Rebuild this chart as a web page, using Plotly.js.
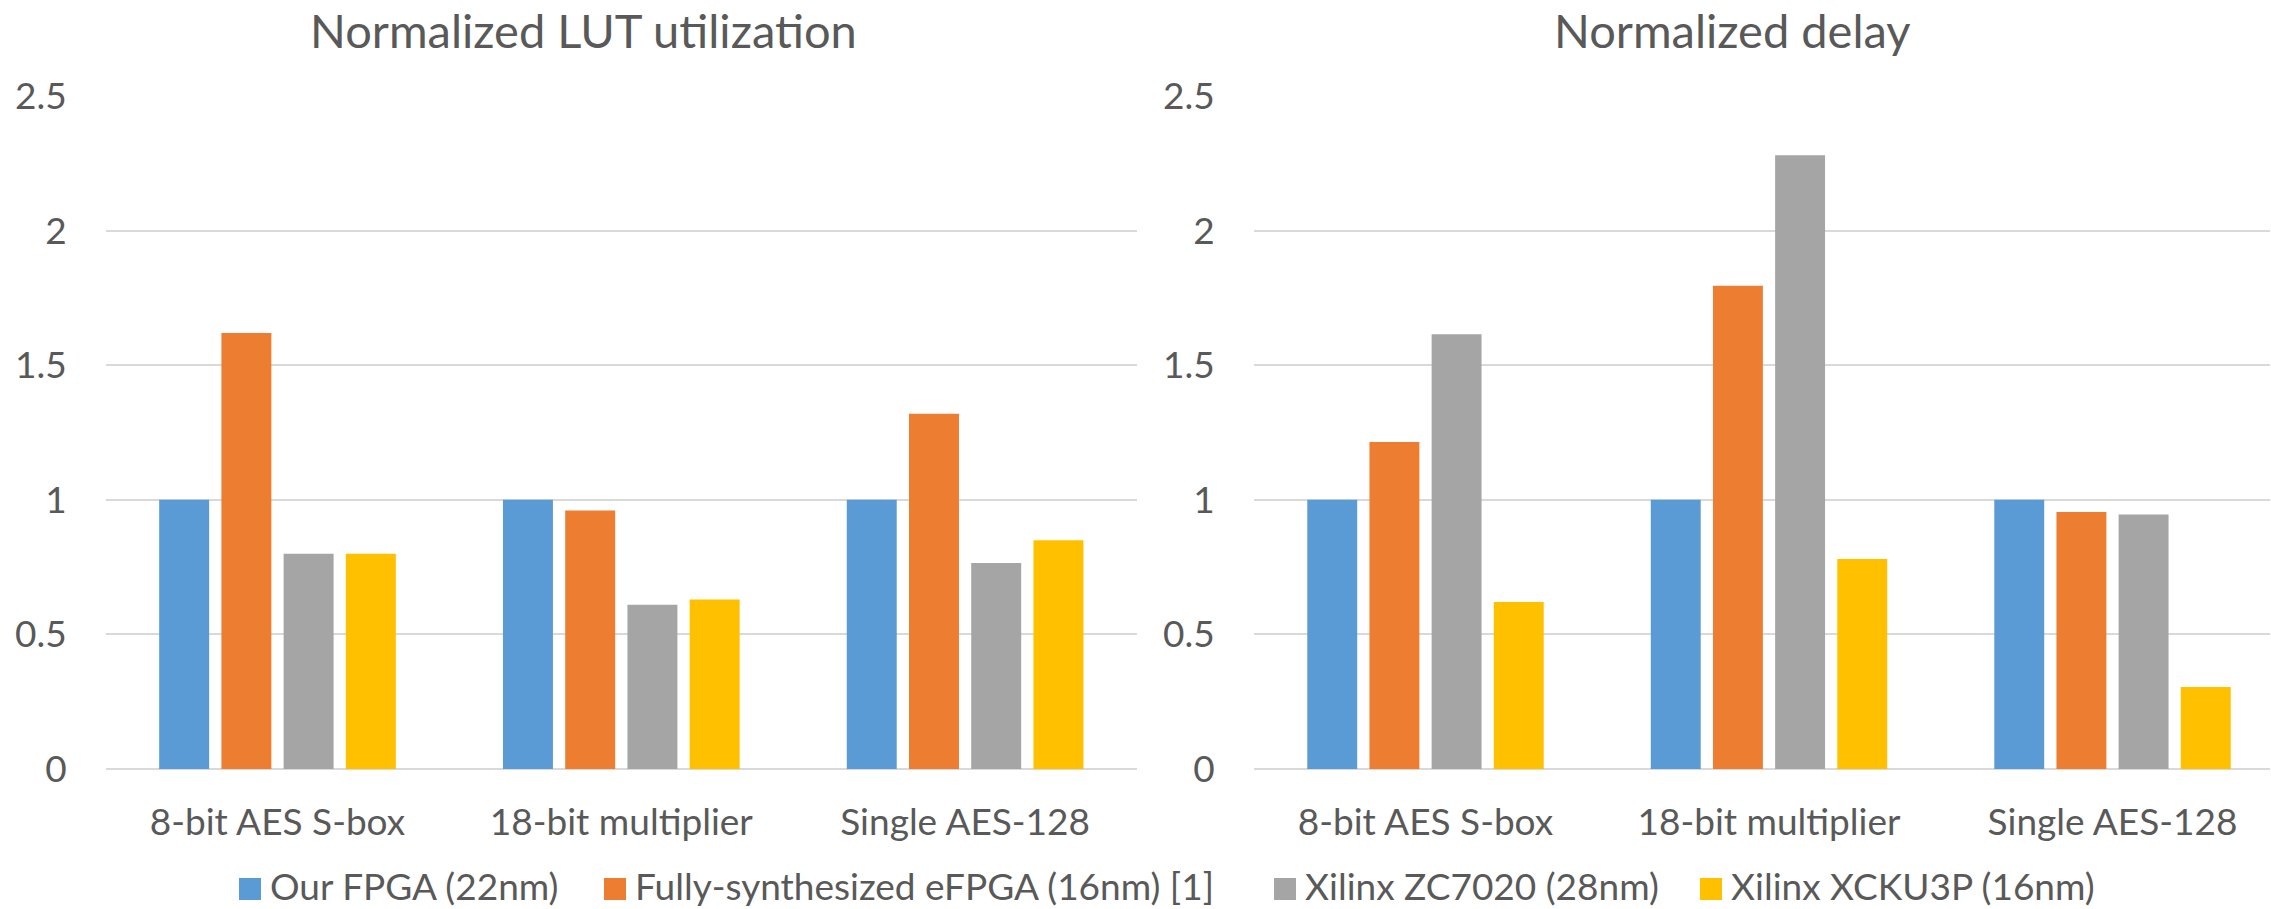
<!DOCTYPE html>
<html>
<head>
<meta charset="utf-8">
<script src="https://cdn.plot.ly/plotly-3.0.1.min.js"></script>
<style>
  html, body { margin: 0; padding: 0; background: #ffffff; }
  #chart { width: 2271px; height: 909px; }
</style>
</head>
<body>
<div id="chart"></div>
<script>
// Benchmark designs compared in both panels
const categories = ['8-bit AES S-box', '18-bit multiplier', 'Single AES-128'];

// Series (devices) shown in each group
const seriesNames = [
  'Our FPGA (22nm)',
  'Fully-synthesized eFPGA (16nm) [1]',
  'Xilinx ZC7020 (28nm)',
  'Xilinx XCKU3P (16nm)'
];

// Normalized LUT utilization per device
const lutOurFpga = [1.0, 1.0, 1.0];
const lutEfpga   = [1.62, 0.96, 1.32];
const lutZc7020  = [0.80, 0.61, 0.765];
const lutXcku3p  = [0.80, 0.63, 0.85];

// Normalized delay per device
const delayOurFpga = [1.0, 1.0, 1.0];
const delayEfpga   = [1.215, 1.795, 0.955];
const delayZc7020  = [1.615, 2.28, 0.945];
const delayXcku3p  = [0.62, 0.78, 0.305];

const panelTitles = ['Normalized LUT utilization', 'Normalized delay'];

// ---- styling -------------------------------------------------------------
const W = 2271, H = 909;
const M = { l: 0, r: 0, t: 96, b: 140 };
const seriesColors = ['#5B9BD5', '#ED7D31', '#A5A5A5', '#FFC000'];
const textColor = '#595959';
const gridColor = '#D9D9D9';
const FONT = 'Lato, "Open Sans", sans-serif';

const px2x = p => p / W;                               // pixel -> paper x
const px2y = p => (H - M.b - p) / (H - M.t - M.b);     // pixel -> paper y

const lutSeries = [lutOurFpga, lutEfpga, lutZc7020, lutXcku3p];
const delaySeries = [delayOurFpga, delayEfpga, delayZc7020, delayXcku3p];

const traces = [];
lutSeries.forEach((vals, i) => traces.push({
  type: 'bar', x: categories, y: vals, name: seriesNames[i],
  xaxis: 'x', yaxis: 'y', showlegend: false,
  marker: { color: seriesColors[i], line: { width: 0 } },
  hoverinfo: 'x+y+name'
}));
delaySeries.forEach((vals, i) => traces.push({
  type: 'bar', x: categories, y: vals, name: seriesNames[i],
  xaxis: 'x2', yaxis: 'y2', showlegend: false,
  marker: { color: seriesColors[i], line: { width: 0 } },
  hoverinfo: 'x+y+name'
}));

const yAxisStyle = {
  range: [0, 2.5], dtick: 0.5, tick0: 0,
  showgrid: true, gridcolor: gridColor, gridwidth: 2,
  zeroline: true, zerolinecolor: gridColor, zerolinewidth: 2,
  showline: false, ticks: '',
  ticklabelstandoff: 38,
  tickfont: { family: FONT, size: 37, color: textColor },
  fixedrange: true
};
const xAxisStyle = {
  type: 'category', showgrid: false, zeroline: false, showline: false, ticks: '',
  ticklabelstandoff: 28,
  tickfont: { family: FONT, size: 37, color: textColor },
  fixedrange: true
};

// Legend swatch / label positions along the bottom row
const legendSwatchLeft = [239, 604, 1274, 1700];
const legendSwatchCenter = 889;
const legendTextCenter = 885;
const swatch = 22;

const shapes = seriesNames.map((n, i) => ({
  type: 'rect', xref: 'paper', yref: 'paper', layer: 'above',
  x0: px2x(legendSwatchLeft[i]), x1: px2x(legendSwatchLeft[i] + swatch),
  y0: px2y(legendSwatchCenter + swatch / 2), y1: px2y(legendSwatchCenter - swatch / 2),
  fillcolor: seriesColors[i], line: { width: 0 }
}));

const annotations = [
  { text: panelTitles[0], x: px2x(583), y: px2y(30) },
  { text: panelTitles[1], x: px2x(1732), y: px2y(30) }
].map(a => Object.assign(a, {
  xref: 'paper', yref: 'paper', xanchor: 'center', yanchor: 'middle',
  showarrow: false, font: { family: FONT, size: 47, color: textColor }
}));

seriesNames.forEach((n, i) => annotations.push({
  text: n, xref: 'paper', yref: 'paper',
  x: px2x(legendSwatchLeft[i] + swatch + 8), y: px2y(legendTextCenter),
  xanchor: 'left', yanchor: 'middle', showarrow: false, borderpad: 0,
  font: { family: FONT, size: 37, color: textColor }
}));

const layout = {
  width: W, height: H,
  margin: M,
  paper_bgcolor: '#ffffff', plot_bgcolor: '#ffffff',
  barmode: 'group', bargap: 0.276, bargroupgap: 0.197,
  showlegend: false,
  xaxis: Object.assign({}, xAxisStyle, {
    domain: [px2x(105.6), px2x(1137)], range: [-0.5, 2.5], anchor: 'y'
  }),
  yaxis: Object.assign({}, yAxisStyle, { anchor: 'x' }),
  xaxis2: Object.assign({}, xAxisStyle, {
    domain: [px2x(1253.75), px2x(2270)], range: [-0.5, 2.4585], anchor: 'y2'
  }),
  yaxis2: Object.assign({}, yAxisStyle, { anchor: 'x2' }),
  shapes: shapes,
  annotations: annotations
};

Plotly.newPlot('chart', traces, layout, { displayModeBar: false, staticPlot: true });
</script>
</body>
</html>
